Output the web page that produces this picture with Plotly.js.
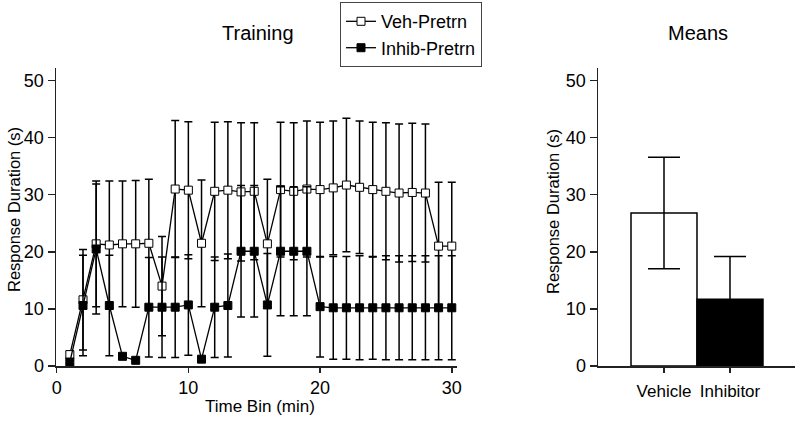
<!DOCTYPE html>
<html>
<head>
<meta charset="utf-8">
<script src="https://cdn.plot.ly/plotly-3.0.1.min.js"></script>
<style>html,body{margin:0;padding:0;background:#fff;}#chart{width:800px;height:421px;}</style>
</head>
<body>
<div id="chart"></div>
<script>
// Training time course (time bin in minutes)
var timeBins = [1,2,3,4,5,6,7,8,9,10,11,12,13,14,15,16,17,18,19,20,21,22,23,24,25,26,27,28,29,30];
var vehMean = [2.0,11.6,21.4,21.2,21.4,21.4,21.5,14.0,31.0,30.8,21.5,30.6,30.8,30.5,30.6,21.4,30.9,30.6,31.0,30.9,31.2,31.7,31.3,30.9,30.6,30.3,30.4,30.3,21.0,21.0];
var vehErr  = [0.6,8.8,11.0,11.2,11.0,11.1,11.2,8.7,12.0,12.0,11.1,12.1,12.0,12.1,12.0,11.3,11.8,12.0,11.9,11.8,11.7,11.7,11.6,11.8,12.0,12.1,12.1,12.1,11.2,11.2];
var inhMean = [0.7,10.6,20.5,10.6,1.7,1.0,10.3,10.3,10.3,10.7,1.2,10.3,10.6,20.1,20.1,10.7,20.1,20.1,20.1,10.4,10.2,10.2,10.2,10.2,10.2,10.2,10.2,10.2,10.2,10.2];
var inhErr  = [0.3,8.8,11.4,8.8,0.5,0.3,8.7,8.8,8.8,8.8,0.3,8.8,9.0,11.5,11.5,9.0,11.3,11.3,11.3,8.8,9.0,9.0,9.1,9.0,9.1,9.1,9.1,9.1,9.1,9.1];

// Means panel
var meanCategories = ['Vehicle','Inhibitor'];
var meanValues = [26.8, 11.7];
var meanErr = [9.75, 7.5];
var barColors = ['#ffffff','#000000'];

var FONT = 'Liberation Sans, Arial, Helvetica, sans-serif';

var traces = [
  {
    x: timeBins, y: vehMean, name: 'Veh-Pretrn', type: 'scatter', mode: 'lines+markers',
    xaxis: 'x', yaxis: 'y', cliponaxis: false,
    line: {color: '#000', width: 1.3},
    marker: {symbol: 'square', size: 8, color: '#fff', line: {color: '#000', width: 1}},
    error_y: {type: 'data', array: vehErr, visible: true, color: '#000', thickness: 1.5, width: 4}
  },
  {
    x: timeBins, y: inhMean, name: 'Inhib-Pretrn', type: 'scatter', mode: 'lines+markers',
    xaxis: 'x', yaxis: 'y', cliponaxis: false,
    line: {color: '#000', width: 1.3},
    marker: {symbol: 'square', size: 8, color: '#000', line: {color: '#000', width: 1}},
    error_y: {type: 'data', array: inhErr, visible: true, color: '#000', thickness: 1.5, width: 4}
  },
  {
    x: meanCategories, y: meanValues, type: 'bar', xaxis: 'x2', yaxis: 'y2', showlegend: false,
    marker: {color: barColors, line: {color: '#000', width: 1.5}},
    error_y: {type: 'data', array: meanErr, visible: true, color: '#000', thickness: 1.5, width: 16}
  }
];

var axisCommon = {
  showline: true, linecolor: '#222', linewidth: 1.5, showgrid: false, zeroline: false,
  ticks: 'outside', ticklen: 7, tickwidth: 1.5, tickcolor: '#222',
  tickfont: {family: FONT, size: 18, color: '#000'}, fixedrange: true
};

function ax(extra) { return Object.assign({}, axisCommon, extra); }

var layout = {
  width: 800, height: 421,
  margin: {l: 0, r: 0, t: 0, b: 0},
  paper_bgcolor: '#fff', plot_bgcolor: '#fff',
  font: {family: FONT, color: '#000'},
  showlegend: true,
  bargap: 0,
  legend: {
    x: 0.425, y: 0.995, xanchor: 'left', yanchor: 'top',
    bordercolor: '#444', borderwidth: 1, bgcolor: '#fff',
    font: {family: FONT, size: 18, color: '#000'},
    itemwidth: 30, tracegroupgap: 0
  },
  xaxis: ax({domain: [0.07, 0.5713], range: [-0.05, 30.4], tickvals: [0,10,20,30], anchor: 'y', ticklen: 5}),
  yaxis: ax({domain: [0.1306, 0.8385], range: [0, 52.2], tickvals: [0,10,20,30,40,50], anchor: 'x'}),
  xaxis2: ax({domain: [0.7475, 0.99375], range: [-1, 1.985], type: 'category', anchor: 'y2',
              ticklen: 5, ticklabelstandoff: 4, tickfont: {family: FONT, size: 17, color: '#000'}}),
  yaxis2: ax({domain: [0.1306, 0.8385], range: [0, 52.2], tickvals: [0,10,20,30,40,50], anchor: 'x2'}),
  annotations: [
    {text: 'Training', xref: 'paper', yref: 'paper', x: 258/800, y: 1 - 33/421, xanchor: 'center', yanchor: 'middle', showarrow: false, font: {family: FONT, size: 20, color: '#000'}},
    {text: 'Means', xref: 'paper', yref: 'paper', x: 698/800, y: 1 - 33/421, xanchor: 'center', yanchor: 'middle', showarrow: false, font: {family: FONT, size: 20, color: '#000'}},
    {text: 'Time Bin (min)', xref: 'paper', yref: 'paper', x: 260/800, y: 1 - 406/421, xanchor: 'center', yanchor: 'middle', showarrow: false, font: {family: FONT, size: 17, color: '#000'}},
    {text: 'Response Duration (s)', xref: 'paper', yref: 'paper', x: 14/800, y: 1 - 210/421, xanchor: 'center', yanchor: 'middle', textangle: -90, showarrow: false, font: {family: FONT, size: 16.5, color: '#000'}},
    {text: 'Response Duration (s)', xref: 'paper', yref: 'paper', x: 553/800, y: 1 - 212/421, xanchor: 'center', yanchor: 'middle', textangle: -90, showarrow: false, font: {family: FONT, size: 16.5, color: '#000'}}
  ]
};

Plotly.newPlot('chart', traces, layout, {staticPlot: true, displayModeBar: false});
</script>
</body>
</html>
